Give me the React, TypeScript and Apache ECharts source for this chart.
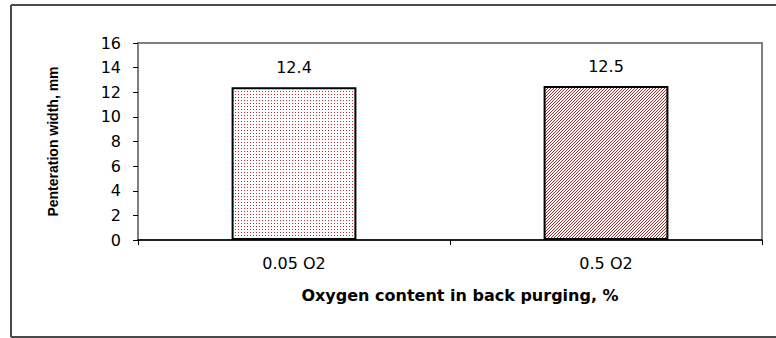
import React, { useEffect, useRef } from "react";
import * as echarts from "echarts";

const categories = ["0.05 O2", "0.5 O2"];
const values = [12.4, 12.5];
const yTicks = [0, 2, 4, 6, 8, 10, 12, 14, 16];

function makeDots(): HTMLCanvasElement {
  const c = document.createElement("canvas");
  c.width = 3;
  c.height = 3;
  const ctx = c.getContext("2d")!;
  ctx.fillStyle = "#ffffff";
  ctx.fillRect(0, 0, 3, 3);
  ctx.fillStyle = "#b83030";
  ctx.fillRect(1, 1, 1, 1);
  return c;
}

function makeHatch(): HTMLCanvasElement {
  const c = document.createElement("canvas");
  c.width = 3;
  c.height = 3;
  const ctx = c.getContext("2d")!;
  ctx.fillStyle = "#ffffff";
  ctx.fillRect(0, 0, 3, 3);
  ctx.fillStyle = "#a82828";
  ctx.fillRect(2, 0, 1, 1);
  ctx.fillRect(1, 1, 1, 1);
  ctx.fillRect(0, 2, 1, 1);
  return c;
}

const FONT = "DejaVu Sans";

export default function App() {
  const ref = useRef<HTMLDivElement>(null);
  useEffect(() => {
    if (!ref.current) return;
    const chart = echarts.init(ref.current, undefined, { renderer: "svg" });
    const patterns = [makeDots(), makeHatch()];
    const frame = { stroke: "#4a4a4a", lineWidth: 2 };
    chart.setOption({
      animation: false,
      backgroundColor: "#ffffff",
      graphic: [
        { type: "line", shape: { x1: 11, y1: 5, x2: 776, y2: 5 }, style: frame, silent: true },
        { type: "line", shape: { x1: 11, y1: 5, x2: 11, y2: 337 }, style: frame, silent: true },
        { type: "line", shape: { x1: 11, y1: 337, x2: 776, y2: 337 }, style: frame, silent: true },
      ],
      grid: {
        left: 138,
        right: 14,
        top: 43,
        bottom: 98,
        show: true,
        borderColor: "#808080",
        borderWidth: 2,
        backgroundColor: "transparent",
      },
      xAxis: {
        type: "category",
        data: categories,
        boundaryGap: true,
        name: "Oxygen content in back purging, %",
        nameLocation: "middle",
        nameGap: 47,
        nameTextStyle: {
          fontFamily: FONT,
          fontWeight: "bold",
          fontSize: 16,
          color: "#000",
          padding: [0, 0, 0, 20],
        },
        axisLine: { show: true, lineStyle: { color: "#000", width: 1.5 } },
        axisTick: { show: true, alignWithLabel: false, length: 5, lineStyle: { color: "#000" } },
        axisLabel: {
          fontFamily: FONT,
          fontSize: 16,
          color: "#000",
          margin: 15,
        },
        splitLine: { show: false },
      },
      yAxis: {
        type: "value",
        min: yTicks[0],
        max: yTicks[yTicks.length - 1],
        interval: 2,
        name: "Penteration width, mm",
        nameLocation: "middle",
        nameGap: 78,
        nameRotate: 90,
        nameTextStyle: {
          fontFamily: "Liberation Sans",
          fontWeight: "bold",
          fontSize: 14,
          color: "#000",
        },
        axisLine: { show: true, lineStyle: { color: "#808080", width: 2 } },
        axisTick: { show: true, length: 5, lineStyle: { color: "#000" } },
        axisLabel: {
          fontFamily: FONT,
          fontSize: 16,
          color: "#000",
          margin: 17,
        },
        splitLine: { show: false },
      },
      series: [
        {
          type: "bar",
          barWidth: "40%",
          data: values.map((v, i) => ({
            value: v,
            itemStyle: {
              color: { image: patterns[i], repeat: "repeat" },
              borderColor: "#000",
              borderWidth: 2,
            },
          })),
          label: {
            show: true,
            position: "top",
            distance: 12,
            fontFamily: FONT,
            fontSize: 16,
            color: "#000",
          },
        },
      ],
    });
    return () => chart.dispose();
  }, []);
  return (
    <div
      ref={ref}
      style={{ position: "absolute", left: 0, top: 0, width: 776, height: 338 }}
    />
  );
}
